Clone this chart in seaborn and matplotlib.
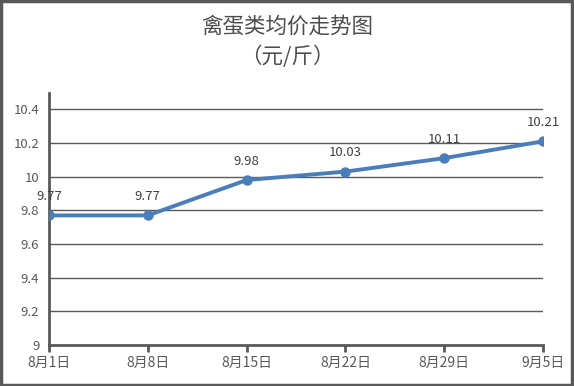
import matplotlib
matplotlib.use("Agg")
import matplotlib.pyplot as plt
import seaborn as sns
import pandas as pd
from matplotlib.patches import Rectangle

dates = ["8月1日", "8月8日", "8月15日", "8月22日", "8月29日", "9月5日"]
prices = [9.77, 9.77, 9.98, 10.03, 10.11, 10.21]
yticks = [9, 9.2, 9.4, 9.6, 9.8, 10, 10.2, 10.4]
ytick_labels = ["9", "9.2", "9.4", "9.6", "9.8", "10", "10.2", "10.4"]

sns.set_theme(style="white")
plt.rcParams['font.family'] = ['Noto Sans CJK SC', 'DejaVu Sans']

W, H = 574, 386
fig = plt.figure(figsize=(W / 100, H / 100), dpi=100)
ax = fig.add_axes([49 / W, (H - 345) / H, (543 - 49) / W, (345 - 92.5) / H])

df = pd.DataFrame({"x": range(len(dates)), "price": prices})
grey = "#595959"
blue = "#4a7ebb"

for y in yticks[1:]:
    ax.axhline(y, color=grey, lw=1, zorder=1)

sns.lineplot(data=df, x="x", y="price", ax=ax, color=blue, lw=2.8,
             marker="o", markersize=7.5, markeredgewidth=0, zorder=3)

for i, v in enumerate(prices):
    ax.annotate(f"{v:g}", (i, v), xytext=(0, 13.5), textcoords="offset points",
                ha="center", va="center", fontsize=9.5, color="#404040")

ax.set_xlim(0, len(dates) - 1)
ax.set_ylim(9, 10.5)
ax.set_xticks(range(len(dates)))
ax.set_xticklabels(dates)
ax.set_yticks(yticks)
ax.set_yticklabels(ytick_labels)
ax.set_xlabel("")
ax.set_ylabel("")
for s in ["top", "right"]:
    ax.spines[s].set_visible(False)
for s in ["left", "bottom"]:
    ax.spines[s].set_color(grey)
    ax.spines[s].set_linewidth(2)
ax.tick_params(axis="x", which="both", bottom=True, length=5, width=2,
               color=grey, labelsize=10, labelcolor=grey, pad=3)
ax.tick_params(axis="y", left=False, length=0, labelsize=9.5, labelcolor=grey, pad=7)
for lab in ax.get_xticklabels():
    lab.set_color(grey)

fig.text(0.5, (H - 27) / H, "禽蛋类均价走势图", ha="center", va="center",
         fontsize=15.5, color="#4d4d4d")
fig.text(0.5, (H - 57) / H, "（元/斤）", ha="center", va="center",
         fontsize=15.5, color="#4d4d4d")

fig.patches.append(Rectangle((0.002, 0.003), 0.995, 0.994, transform=fig.transFigure,
                             fill=False, edgecolor=grey, lw=2.5))

fig.savefig("out.png", dpi=100)
